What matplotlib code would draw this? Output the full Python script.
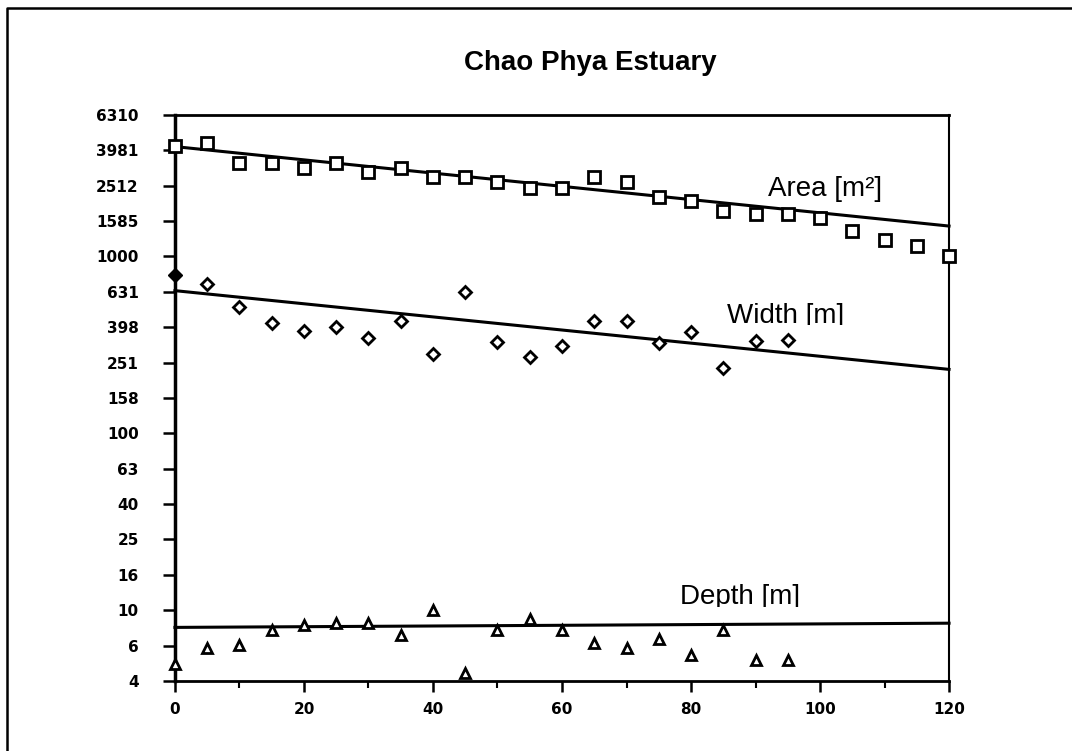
import numpy as np
import matplotlib
matplotlib.use("Agg")
import matplotlib.pyplot as plt
from matplotlib.lines import Line2D
from matplotlib.transforms import Bbox, TransformedBbox

# distance along estuary [km]
km_area = [0, 5, 10, 15, 20, 25, 30, 35, 40, 45, 50, 55, 60, 65, 70, 75, 80, 85,
           90, 95, 100, 105, 110, 115, 120]
area = [4200, 4360, 3370, 3370, 3150, 3390, 2990, 3180, 2830, 2800, 2650, 2430,
        2430, 2830, 2650, 2180, 2070, 1815, 1740, 1740, 1645, 1400, 1240, 1150, 1000]

km_width = [0, 5, 10, 15, 20, 25, 30, 35, 40, 45, 50, 55, 60, 65, 70, 75, 80, 85, 90, 95]
width = [786, 696, 516, 419, 379, 398, 347, 432, 280, 628, 330, 271, 312, 434,
         434, 323, 376, 235, 334, 337]

km_depth = [0, 5, 10, 15, 20, 25, 30, 35, 40, 45, 50, 55, 60, 65, 70, 75, 80, 85, 90, 95]
depth = [5.0, 6.1, 6.35, 7.75, 8.25, 8.45, 8.5, 7.2, 10.0, 4.4, 7.75, 8.95, 7.7,
         6.5, 6.1, 6.85, 5.55, 7.75, 5.2, 5.2]

# fitted trend lines, end points
fit_km = [0, 120]
area_fit = [4180, 1486]
width_fit = [641, 230]
depth_fit = [8.0, 8.45]

ytick_vals = [10 ** (0.2 * k) for k in range(3, 20)]
ytick_labels = ["4", "6", "10", "16", "25", "40", "63", "100", "158", "251", "398",
                "631", "1000", "1585", "2512", "3981", "6310"]

fig = plt.figure(figsize=(10.72, 7.51), dpi=100)
ax = fig.add_axes([0.1632, 0.0932, 0.7221, 0.7537])
ax.set_yscale("log")
ax.set_xlim(0, 120)
ax.set_ylim(10 ** 0.6, 10 ** 3.8)

ax.plot(fit_km, area_fit, color="black", lw=2.2, clip_on=False)
ax.plot(fit_km, width_fit, color="black", lw=2.2, clip_on=False)
ax.plot(fit_km, depth_fit, color="black", lw=2.2, clip_on=False)

ax.plot(km_area, area, ls="none", marker="s", ms=8, mfc="white", mec="black",
        mew=2, clip_on=False, zorder=3)
ax.plot(km_width[1:], width[1:], ls="none", marker="D", ms=6, mfc="white",
        mec="black", mew=2, clip_on=False, zorder=3)
ax.plot(km_width[:1], width[:1], ls="none", marker="D", ms=7, mfc="black",
        mec="black", clip_on=False, zorder=3)
ax.plot(km_depth, depth, ls="none", marker="^", ms=7, mfc="white", mec="black",
        mew=2, clip_on=False, zorder=3)

ax.set_yticks(ytick_vals)
ax.set_yticklabels(ytick_labels)
ax.yaxis.set_minor_locator(matplotlib.ticker.NullLocator())
ax.set_xticks(range(0, 121, 20))
ax.set_xticks(range(10, 121, 20), minor=True)
ax.tick_params(axis="y", direction="out", length=9, width=1.8, pad=17,
               labelsize=11)
ax.tick_params(axis="x", which="major", direction="out", length=8, width=1.8,
               pad=7, labelsize=11)
ax.tick_params(axis="x", which="minor", direction="out", length=5, width=1.5)
for lab in ax.get_xticklabels() + ax.get_yticklabels():
    lab.set_fontweight("bold")

ax.spines["left"].set_linewidth(2.5)
ax.spines["top"].set_linewidth(2)
ax.spines["bottom"].set_linewidth(2)
ax.spines["right"].set_linewidth(1.5)

lab_font = dict(family="Liberation Sans", fontsize=20, color="black")
ax.text(91.9, 2198, "Area [m²]", ha="left", va="baseline", **lab_font)
t_w = ax.text(85.6, 419, "Width [m]", ha="left", va="baseline", **lab_font)
t_d = ax.text(78.3, 10.8, "Depth [m]", ha="left", va="baseline", **lab_font)
# the labels in the original are cut off at the bottom
t_w.set_clip_box(TransformedBbox(Bbox([[0, 410], [120, 6310]]), ax.transData))
t_w.set_clip_on(True)
t_d.set_clip_box(TransformedBbox(Bbox([[0, 10.4], [120, 6310]]), ax.transData))
t_d.set_clip_on(True)

fig.text(590 / 1072, 1 - 69.5 / 751, "Chao Phya Estuary", ha="center",
         va="baseline", family="Liberation Sans", fontsize=20, fontweight="bold")

# frame round the picture (only left and top edges show)
fig.add_artist(Line2D([7 / 1072, 7 / 1072, 1.0], [0.0, 1 - 8 / 751, 1 - 8 / 751],
                      transform=fig.transFigure, color="black", lw=1.8))

fig.savefig("out.png", dpi=100)
